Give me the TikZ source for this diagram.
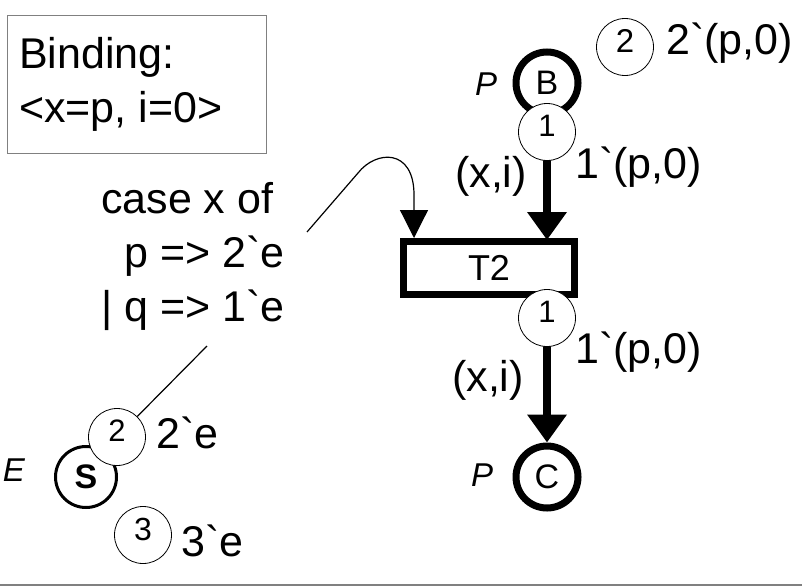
\documentclass[tikz,border=0pt]{standalone}
\usepackage{fontspec}
\newfontfamily\arialfont{Liberation Sans}
\usetikzlibrary{arrows.meta}

\newcommand{\bq}{\symbol{96}}

\tikzset{place/.style={circle, draw, line width=7pt, minimum size=62pt, inner sep=0pt, font=\arialfont\fontsize{34}{34}\selectfont}}
\tikzset{token/.style={circle, draw, line width=0.8pt, fill=white, minimum size=57pt, inner sep=0pt, text depth=12pt, font=\arialfont\fontsize{31}{31}\selectfont}}
\tikzset{trans/.style={rectangle, draw, line width=7pt, fill=white, minimum width=171pt, minimum height=53pt, inner sep=0pt, font=\arialfont\fontsize{36}{36}\selectfont}}
\tikzset{lbl/.style={inner sep=0pt, font=\arialfont\fontsize{43}{54}\selectfont}}
\tikzset{sortlbl/.style={inner sep=0pt, font=\arialfont\fontsize{33}{33}\selectfont\itshape}}
\tikzset{arc/.style={line width=7.5pt, -{Triangle[width=38pt,length=28pt]}}}

\begin{document}
\begin{tikzpicture}[x=1pt, y=-1pt]
            \useasboundingbox (0,0) rectangle (802,586);

            % Bindung
            \draw[gray, line width=1pt] (7,16) rectangle (266,153);
            \node[lbl, anchor=base west] (bind1) at (19,68) {Binding:};
            \node[lbl, anchor=base west] (bind2) at (19,122) {<x=p, i=0>};

            % Stellen und Transition
            \node[place] (B) at (547,83) {B};
            \node[place] (C) at (547,477) {C};
            \node[place, line width=3pt, minimum size=61pt, font=\arialfont\fontsize{34}{34}\selectfont\bfseries] (S) at (86,477) {S};
            \node[sortlbl] (pB) at (486,84) {P};
            \node[sortlbl] (pC) at (482,475) {P};
            \node[sortlbl] (eS) at (14,470) {E};

            % Kanten
            \draw[arc] (B) -- (B |- 0,240);
            \node[trans] (T2) at (489,268) {T2};
            \draw[arc] (T2.south -| C) -- (C);

            % Waechter mit Pfeil
            \node[lbl, anchor=base west] (case1) at (101,213) {case x of};
            \node[lbl, anchor=base west] (case2) at (124,267) {p => 2\bq e};
            \node[lbl, anchor=base west] (case3) at (101,321) {| q => 1\bq e};
            \coordinate (gstart) at (307,232);
            \coordinate (gtip) at (414,238);
            \draw[line width=1.2pt, -{Triangle[width=28pt,length=28pt]}] (gstart) -- (358,173) .. controls (376,150) and (414,148) .. (414,195) -- (gtip);

            % Marken
            \node[token, font=\arialfont\fontsize{33}{33}\selectfont] (tokB) at (625,47) {2};
            \node[token] (tokBC) at (547,132) {1};
            \node[token] (tokTC) at (547,318) {1};
            \node[token] (tokS2) at (117,437) {2};
            \node[token, font=\arialfont\fontsize{32}{32}\selectfont] (tokS3) at (143,535) {3};
            \coordinate (gnote) at (207,346);
            \draw[line width=1.2pt] (gnote) -- (tokS2);

            % Beschriftungen
            \node[lbl, anchor=west] (mB) at (666,43) {2\bq(p,0)};
            \node[lbl, anchor=west] (expB) at (575,167) {1\bq(p,0)};
            \node[lbl, anchor=west] (inB) at (455,176) {(x,i)};
            \node[lbl, anchor=west] (expC) at (575,352) {1\bq(p,0)};
            \node[lbl, anchor=west] (inC) at (452,380) {(x,i)};
            \node[lbl, anchor=west] (mS2) at (156,433) {2\bq e};
            \node[lbl, anchor=west] (mS3) at (181,541) {3\bq e};

            \draw[gray, line width=2pt] (0,585) -- (802,585);
        \end{tikzpicture}
\end{document}
